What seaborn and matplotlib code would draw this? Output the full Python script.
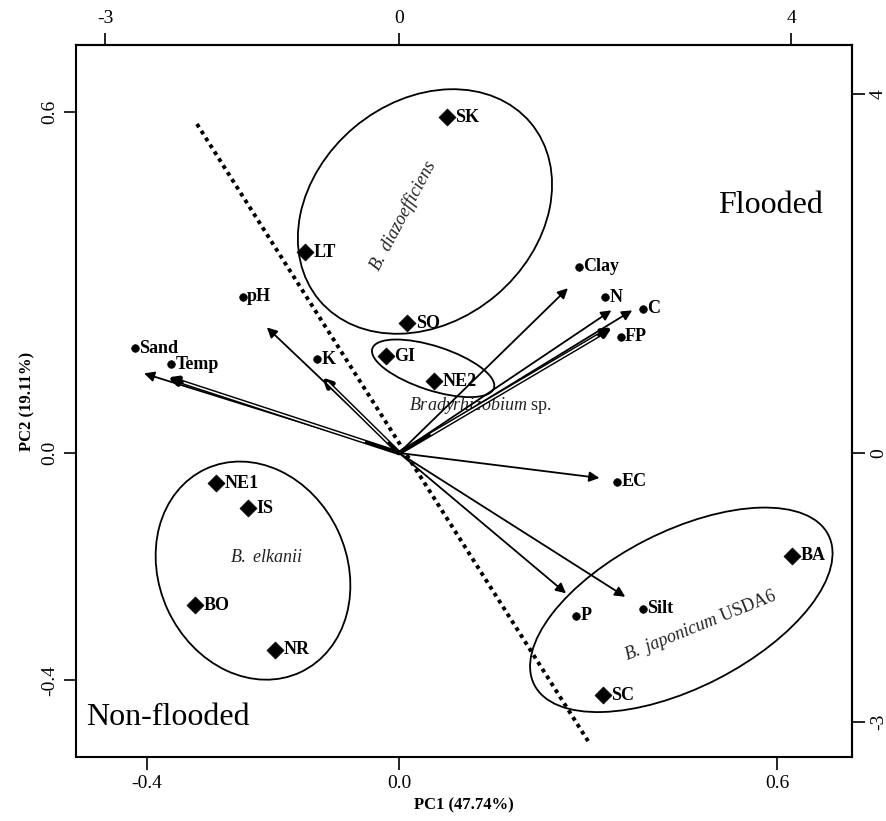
import matplotlib
matplotlib.use("Agg")
import matplotlib.pyplot as plt
import matplotlib.transforms as mtransforms
from matplotlib.patches import Ellipse
import seaborn as sns
import pandas as pd

# strains (PC scores)
samples = ["SK", "LT", "SO", "GI", "NE2", "NE1", "IS", "BO", "NR", "BA", "SC"]
sample_pc1 = [0.076, -0.149, 0.013, -0.021, 0.056, -0.291, -0.240, -0.324, -0.197, 0.624, 0.324]
sample_pc2 = [0.591, 0.353, 0.228, 0.170, 0.126, -0.053, -0.097, -0.268, -0.346, -0.181, -0.426]

# soil variables: label dots and arrow tips
variables = ["Clay", "N", "C", "FP", "pH", "Sand", "Temp", "K", "EC", "P", "Silt"]
var_pc1 = [0.286, 0.327, 0.387, 0.352, -0.248, -0.419, -0.362, -0.130, 0.346, 0.281, 0.387]
var_pc2 = [0.328, 0.274, 0.254, 0.205, 0.275, 0.184, 0.156, 0.165, -0.051, -0.286, -0.274]
arrow_pc1 = [0.268, 0.337, 0.370, 0.338, -0.210, -0.405, -0.367, -0.122, 0.318, 0.265, 0.359]
arrow_pc2 = [0.290, 0.251, 0.251, 0.221, 0.221, 0.140, 0.133, 0.133, -0.044, -0.247, -0.253]
double_arrows = ["Temp", "K", "FP"]

# flooded / non-flooded divide
boundary_pc1 = [-0.321, 0.300]
boundary_pc2 = [0.579, -0.507]

# species groups: centre, width, height, angle
groups = ["B. diazoefficiens", "Bradyrhizobium sp.", "B. elkanii", "B. japonicum USDA6"]
group_cx = [0.041, 0.054, -0.232, 0.448]
group_cy = [0.425, 0.149, -0.207, -0.276]
group_w = [0.438, 0.203, 0.356, 0.524]
group_h = [0.349, 0.070, 0.298, 0.248]
group_angle = [40, -18, 115, 27]
group_labels = [r"$\mathit{B.}$ $\mathit{diazoefficiens}$", r"$\mathit{Bradyrhizobium}$ sp.",
                r"$\mathit{B.}$ $\mathit{elkanii}$", r"$\mathit{B.}$ $\mathit{japonicum}$ USDA6"]
label_x = [0.006, 0.129, -0.210, 0.478]
label_y = [0.418, 0.084, -0.184, -0.305]
label_rot = [62, 0, 0, 22]

xlim = (-0.513, 0.719)
ylim = (-0.535, 0.718)
top_ticks = [-3, 0, 4]
right_ticks = [-3, 0, 4]

sns.set_theme(style="white")
plt.rcParams["font.family"] = ["Liberation Serif", "DejaVu Serif"]
plt.rcParams["mathtext.fontset"] = "custom"
plt.rcParams["mathtext.rm"] = "Liberation Serif"
plt.rcParams["mathtext.it"] = "Liberation Serif:italic"
for key in ["text.color", "axes.labelcolor", "xtick.color", "ytick.color", "axes.edgecolor"]:
    plt.rcParams[key] = "black"

W, H = 887, 821
box = [76 / W, 1 - 757 / H, 776 / W, 712 / H]
fig = plt.figure(figsize=(W / 100, H / 100), dpi=100)
ax = fig.add_axes(box)
ax.set_xlim(*xlim)
ax.set_ylim(*ylim)

# pixel per unit ratio to draw true ellipses
px_x = 776 / (xlim[1] - xlim[0])
px_y = 712 / (ylim[1] - ylim[0])
k = px_y / px_x
iso = mtransforms.Affine2D().scale(1, 1 / k) + ax.transData

for i in range(len(groups)):
    e = Ellipse((group_cx[i], group_cy[i] * k), group_w[i], group_h[i], angle=group_angle[i],
                fill=False, edgecolor="black", lw=1.3, transform=iso)
    ax.add_patch(e)
    ax.text(label_x[i], label_y[i], group_labels[i], fontsize=13, rotation=label_rot[i],
            ha="center", va="center", rotation_mode="anchor", color="#222222")

ax.plot(boundary_pc1, boundary_pc2, color="black", lw=2.8, linestyle=(0, (1, 1.1)))

for i, v in enumerate(variables):
    if v in double_arrows:
        ax.annotate("", xy=(arrow_pc1[i], arrow_pc2[i]), xytext=(0, 0),
                    arrowprops=dict(arrowstyle="-|>", color="black", lw=3.2, mutation_scale=13,
                                    shrinkA=0, shrinkB=0))
        ax.annotate("", xy=(arrow_pc1[i] * 0.93, arrow_pc2[i] * 0.93), xytext=(arrow_pc1[i] * 0.15, arrow_pc2[i] * 0.15),
                    arrowprops=dict(arrowstyle="-", color="white", lw=1.1, shrinkA=0, shrinkB=0))
    else:
        ax.annotate("", xy=(arrow_pc1[i], arrow_pc2[i]), xytext=(0, 0),
                    arrowprops=dict(arrowstyle="-|>", color="black", lw=1.3, mutation_scale=15,
                                    shrinkA=0, shrinkB=0))

sdf = pd.DataFrame({"PC1": sample_pc1, "PC2": sample_pc2, "name": samples})
vdf = pd.DataFrame({"PC1": var_pc1, "PC2": var_pc2, "name": variables})
sns.scatterplot(data=sdf, x="PC1", y="PC2", marker="D", s=75, color="black", edgecolor="black",
                linewidth=0.5, ax=ax, legend=False, zorder=5)
sns.scatterplot(data=vdf, x="PC1", y="PC2", marker="o", s=30, color="black", edgecolor="black",
                linewidth=0.5, ax=ax, legend=False, zorder=5)

for _, r in sdf.iterrows():
    ax.annotate(r["name"], (r["PC1"], r["PC2"]), xytext=(6, 0), textcoords="offset points",
                ha="left", va="center", fontsize=13, fontweight="bold")
for _, r in vdf.iterrows():
    ax.annotate(r["name"], (r["PC1"], r["PC2"]), xytext=(3, 0), textcoords="offset points",
                ha="left", va="center", fontsize=13, fontweight="bold")

ax.text(0.589, 0.435, "Flooded", fontsize=23, ha="center", va="center")
ax.text(-0.367, -0.465, "Non-flooded", fontsize=23, ha="center", va="center")

ax.set_xticks([-0.4, 0.0, 0.6])
ax.set_xticklabels(["-0.4", "0.0", "0.6"])
ax.set_yticks([-0.4, 0.0, 0.6])
ax.set_yticklabels(["-0.4", "0.0", "0.6"], rotation=90, va="center")
ax.set_xlabel("PC1 (47.74%)", fontsize=12, fontweight="bold", labelpad=4)
ax.set_ylabel("PC2 (19.11%)", fontsize=12, fontweight="bold", labelpad=4)
ax.tick_params(axis="both", direction="out", length=9, width=1.2, labelsize=14, color="black",
               labelcolor="black", bottom=True, left=True, pad=4)

fx = 630 / 98
fy = 570 / 90
top = ax.secondary_xaxis("top", functions=(lambda x: x * fx, lambda t: t / fx))
top.set_xticks(top_ticks)
top.set_xticklabels([str(t) for t in top_ticks])
top.tick_params(direction="out", length=9, width=1.2, labelsize=14, pad=4, color="black", labelcolor="black")
right = ax.secondary_yaxis("right", functions=(lambda y: y * fy, lambda t: t / fy))
right.set_yticks(right_ticks)
right.set_yticklabels([str(t) for t in right_ticks], rotation=90, va="center")
right.tick_params(direction="out", length=9, width=1.2, labelsize=14, pad=4, color="black", labelcolor="black")

for s in ax.spines.values():
    s.set_color("black")
    s.set_linewidth(1.5)
for a in (top, right):
    for s in a.spines.values():
        s.set_color("black")
        s.set_linewidth(1.5)

fig.savefig("out.png", dpi=100)
